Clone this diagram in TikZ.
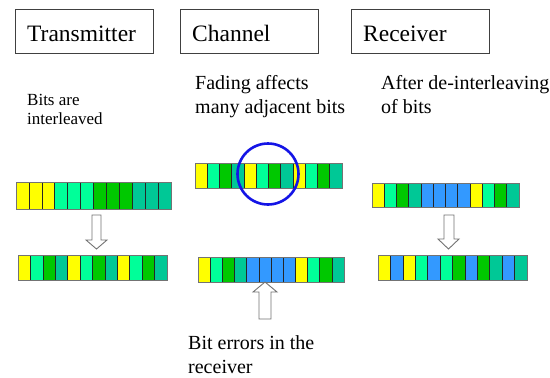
\documentclass[tikz,border=0pt]{standalone}
\usepackage{fontspec}
\setmainfont{Liberation Serif}
\definecolor{cY}{RGB}{255,255,0}
\definecolor{cL}{RGB}{0,255,153}
\definecolor{cG}{RGB}{0,200,0}
\definecolor{cT}{RGB}{0,200,150}
\definecolor{cB}{RGB}{51,153,255}
\definecolor{cRing}{RGB}{20,20,230}
\tikzset{
  titlebox/.style={draw=black!75, line width=0.8pt, minimum width=138pt, minimum height=44pt, inner sep=0pt},
  titletext/.style={anchor=base west, inner sep=0pt, font=\rmfamily\fontsize{23.5}{26}\selectfont},
  label/.style={anchor=base west, inner sep=0pt, align=left, font=\rmfamily\fontsize{20}{24}\selectfont},
  smalllabel/.style={anchor=base west, inner sep=0pt, align=left, font=\rmfamily\fontsize{17}{19}\selectfont},
  cell/.style={draw=black!85, line width=0.6pt},
  barframe/.style={draw=black!55, line width=0.9pt},
  blockarrow/.style={draw=black!55, fill=white, line width=0.9pt, line join=miter},
}
% #1 name, #2 x0, #3 y0, #4 x1, #5 y1, #6 colours
\newcommand\bitbar[6]{%
  \foreach \cc [count=\i from 0] in {#6} {%
    \pgfmathsetmacro\xa{#2+(#4-#2)*\i/12}%
    \pgfmathsetmacro\xb{#2+(#4-#2)*(\i+1)/12}%
    \filldraw[cell, fill=\cc] (\xa,#3) rectangle (\xb,#5);
  }%
  \draw[barframe] (#2,#3) rectangle (#4,#5);
  \coordinate (#1) at ({(#2+#4)/2},{(#3+#5)/2});
}
\begin{document}
\begin{tikzpicture}[x=1pt,y=-1pt]
\path[use as bounding box, fill=white] (0,0) rectangle (550,378);

% title boxes
\node[titlebox] (tbox) at (84,31) {};
\node[titlebox] (cbox) at (249.5,31) {};
\node[titlebox] (rbox) at (420.5,31) {};
\node[titletext] (ttx) at (27,41) {Transmitter};
\node[titletext] (ctx) at (192,41) {Channel};
\node[titletext] (rtx) at (363,41) {Receiver};

% labels (base = last line)
\node[smalllabel] (tlab) at (27,124) {Bits are\\interleaved};
\node[label] (clab) at (195,113) {Fading affects\\many adjacent bits};
\node[label] (rlab) at (381,113) {After de-interleaving\\of bits};
\node[label] (elab) at (188,373) {Bit errors in the\\receiver};

% bars
\bitbar{ttop}{16}{182}{171}{209}{cY,cY,cY,cL,cL,cL,cG,cG,cG,cT,cT,cT}
\bitbar{tbot}{18}{255}{167}{280}{cY,cL,cG,cT,cY,cL,cG,cT,cY,cL,cG,cT}
\bitbar{ctop}{195}{163}{342}{188}{cY,cL,cG,cT,cY,cL,cG,cT,cY,cL,cG,cT}
\bitbar{cbot}{198}{257}{344}{282}{cY,cL,cG,cT,cB,cB,cB,cB,cY,cL,cG,cT}
\bitbar{rtop}{372}{183}{519}{207}{cY,cL,cG,cT,cB,cB,cB,cB,cY,cL,cG,cT}
\bitbar{rbot}{378}{255}{527}{280}{cY,cB,cY,cL,cB,cL,cG,cB,cG,cT,cB,cT}

% fading ring
\node[draw=cRing, line width=2.6pt, circle, minimum size=61pt, inner sep=0pt] (ring) at (268,174) {};

% block arrows
\draw[blockarrow] (92,215) -- (101,215) -- (101,240) -- (107,240) -- (96.5,249) -- (86,240) -- (92,240) -- cycle;
\draw[blockarrow] (444,215) -- (454,215) -- (454,239) -- (459,239) -- (448.5,249) -- (438,239) -- (444,239) -- cycle;
\draw[blockarrow] (259,319) -- (271,319) -- (271,292) -- (277,292) -- (265,282) -- (253,292) -- (259,292) -- cycle;
\end{tikzpicture}
\end{document}
